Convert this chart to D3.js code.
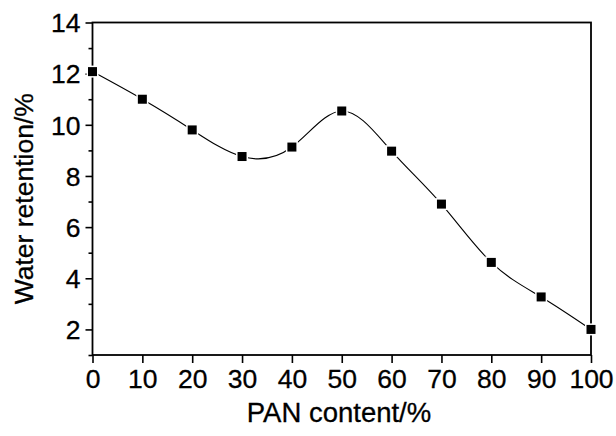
<!DOCTYPE html>
<html>
<head>
<meta charset="utf-8">
<script src="https://cdn.jsdelivr.net/npm/d3@7"></script>
<style>
  body { margin: 0; background: #fff; }
  text { font-family: "Liberation Sans", Arial, sans-serif; fill: #000; }
</style>
</head>
<body>
<div id="chart"></div>
<script>
// data
var panContent = [0, 10, 20, 30, 40, 50, 60, 70, 80, 90, 100];
var waterRetention = [12.08, 11.0, 9.8, 8.76, 9.13, 10.54, 8.97, 6.9, 4.62, 3.27, 2.0];
var xTicks = [0, 10, 20, 30, 40, 50, 60, 70, 80, 90, 100];
var yTicks = [2, 4, 6, 8, 10, 12, 14];
var yMinorTicks = [1, 3, 5, 7, 9, 11, 13];

var width = 616, height = 436;
var margin = { top: 22.5, right: 25, bottom: 81, left: 92.5 };

var svg = d3.select("#chart").append("svg")
    .attr("width", width)
    .attr("height", height);

var x = d3.scaleLinear().domain([0, 100])
    .range([margin.left, width - margin.right]);
var y = d3.scaleLinear().domain([1, 14])
    .range([height - margin.bottom, margin.top]);

// frame
svg.append("rect")
    .attr("x", x(0)).attr("y", y(14))
    .attr("width", x(100) - x(0)).attr("height", y(1) - y(14))
    .attr("fill", "none").attr("stroke", "#000").attr("stroke-width", 1.8);

// x axis
var xAxis = svg.append("g")
    .attr("transform", `translate(0,${y(1)})`)
    .call(d3.axisBottom(x).tickValues(xTicks).tickSize(8).tickPadding(6));
xAxis.select(".domain").remove();
xAxis.selectAll("line").attr("stroke-width", 1.6);
xAxis.selectAll("text").style("font-size", "26.5px").attr("stroke", "#000").attr("stroke-width", 0.3);

// y axis
var yAxis = svg.append("g")
    .attr("transform", `translate(${x(0)},0)`)
    .call(d3.axisLeft(y).tickValues(yTicks).tickSize(7).tickPadding(5));
yAxis.select(".domain").remove();
yAxis.selectAll("line").attr("stroke-width", 1.6);
yAxis.selectAll("text").style("font-size", "26.5px").attr("dy", "0.35em")
    .attr("stroke", "#000").attr("stroke-width", 0.3);

var yMinor = svg.append("g")
    .attr("transform", `translate(${x(0)},0)`)
    .call(d3.axisLeft(y).tickValues(yMinorTicks).tickSize(4).tickFormat(""));
yMinor.select(".domain").remove();
yMinor.selectAll("line").attr("stroke-width", 1.6);

// titles
svg.append("text")
    .attr("x", 339)
    .attr("y", 422)
    .attr("text-anchor", "middle")
    .style("font-size", "27.5px")
    .attr("stroke", "#000").attr("stroke-width", 0.3)
    .text("PAN content/%");

svg.append("text")
    .attr("transform", `translate(33,${(y(1) + y(14)) / 2 + 10}) rotate(-90)`)
    .attr("text-anchor", "middle")
    .style("font-size", "26.5px")
    .attr("stroke", "#000").attr("stroke-width", 0.3)
    .text("Water retention/%");

// spline
var points = panContent.map(function (d, i) { return [d, waterRetention[i]]; });
var line = d3.line()
    .x(function (d) { return x(d[0]); })
    .y(function (d) { return y(d[1]); })
    .curve(d3.curveNatural);

svg.append("path")
    .datum(points)
    .attr("d", line)
    .attr("fill", "none")
    .attr("stroke", "#000")
    .attr("stroke-width", 1.1);

// markers with a white halo
svg.selectAll(".marker")
    .data(points)
    .join("rect")
    .attr("class", "marker")
    .attr("x", function (d) { return x(d[0]) - 4.5; })
    .attr("y", function (d) { return y(d[1]) - 4.5; })
    .attr("width", 9)
    .attr("height", 9)
    .attr("fill", "#000")
    .attr("stroke", "#fff")
    .attr("stroke-width", 3)
    .attr("paint-order", "stroke");
</script>
</body>
</html>
